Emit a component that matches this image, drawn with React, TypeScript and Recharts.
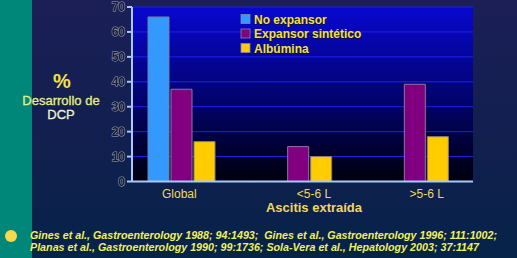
import React from 'react';
import { BarChart, Bar, XAxis, YAxis, CartesianGrid } from 'recharts';

const categories = ['Global', '<5-6 L', '>5-6 L'];
const noExpansor: (number | null)[] = [66, null, null];
const expansorSintetico = [37, 14, 39];
const albumina = [16, 10, 18];
const seriesNames = ['No expansor', 'Expansor sintético', 'Albúmina'];
const seriesColors = ['#3399ff', '#800080', '#ffcc00'];
const yTicks = [0, 10, 20, 30, 40, 50, 60, 70];
const xTitle = 'Ascitis extraída';
const yTitle = ['%', 'Desarrollo de', 'DCP'];
const refs = [
  'Gines et al., Gastroenterology 1988; 94:1493;  Gines et al., Gastroenterology 1996; 111:1002;',
  'Planas et al., Gastroenterology 1990; 99:1736; Sola-Vera et al., Hepatology 2003; 37:1147',
];

// label nudges (style only) so the category labels sit where the reference puts them
const tickShift = [-2, 16, 12];

const data = categories.map((c, i) => ({
  cat: c,
  s0: noExpansor[i],
  s1: expansorSintetico[i],
  s2: albumina[i],
}));

const FONT = '"Liberation Sans", Arial, sans-serif';

const YTick = (props: any) => {
  const { x, y, payload } = props;
  return (
    <text
      x={x}
      y={y}
      dy={4}
      textAnchor="end"
      fontFamily={FONT}
      fontSize={12}
      fontWeight="bold"
      fill="#181828"
      stroke="#9aa6d0"
      strokeWidth={1}
      paintOrder="stroke"
    >
      {payload.value}
    </text>
  );
};

const XTick = (props: any) => {
  const { x, y, payload, index } = props;
  return (
    <text
      x={x + (tickShift[index] || 0)}
      y={y}
      dy={9}
      textAnchor="middle"
      fontFamily={FONT}
      fontSize={12}
      fill="#f0d860"
    >
      {payload.value}
    </text>
  );
};

export default function App() {
  return (
    <div
      style={{
        position: 'absolute',
        left: 0,
        top: 0,
        width: 517,
        height: 258,
        overflow: 'hidden',
        background: 'linear-gradient(180deg, #1b1f56 0%, #121f50 50%, #062348 100%)',
      }}
    >
      <div style={{ position: 'absolute', left: 0, top: 0, width: 32, height: 258, background: '#00877a' }} />
      <div style={{ position: 'absolute', left: 0, top: 0 }}>
        <BarChart
          width={517}
          height={258}
          data={data}
          margin={{ top: 7, right: 44, bottom: 0, left: 0 }}
          barGap={2}
          barSize={21}
        >
          <defs>
            <linearGradient id="plotBg" x1="0" y1="0" x2="0" y2="1">
              <stop offset="0%" stopColor="#0808d0" />
              <stop offset="55%" stopColor="#02026a" />
              <stop offset="100%" stopColor="#00000c" />
            </linearGradient>
          </defs>
          <CartesianGrid
            vertical={false}
            stroke="#2020ee"
            strokeWidth={1}
            fill="url(#plotBg)"
            fillOpacity={1}
          />
          <XAxis
            dataKey="cat"
            height={76.5}
            tickLine={false}
            tickSize={6}
            tickMargin={1}
            padding={{ left: -9, right: 0 }}
            axisLine={{ stroke: '#a8c8ff', strokeWidth: 2 }}
            tick={<XTick />}
            interval={0}
          />
          <YAxis
            width={132}
            domain={[0, 70]}
            ticks={yTicks}
            interval={0}
            tickSize={5}
            tickMargin={2}
            axisLine={{ stroke: '#a8c8ff', strokeWidth: 2 }}
            tickLine={{ stroke: '#a8c8ff', strokeWidth: 2 }}
            tick={<YTick />}
          />
          <Bar dataKey="s0" name={seriesNames[0]} fill={seriesColors[0]} stroke="#7080a8" strokeWidth={1} isAnimationActive={false} />
          <Bar dataKey="s1" name={seriesNames[1]} fill={seriesColors[1]} stroke="#8a78a0" strokeWidth={1} isAnimationActive={false} />
          <Bar dataKey="s2" name={seriesNames[2]} fill={seriesColors[2]} stroke="#8a8070" strokeWidth={1} isAnimationActive={false} />
        </BarChart>
      </div>
      <svg
        width={517}
        height={258}
        style={{ position: 'absolute', left: 0, top: 0, pointerEvents: 'none' }}
      >
        {seriesNames.map((n, i) => (
          <g key={n}>
            <rect x={241} y={14.5 + i * 14.5} width={9} height={9} fill={seriesColors[i]} stroke="#8088a8" strokeWidth={0.8} />
            <text
              x={254}
              y={23.5 + i * 14.5}
              fontFamily={FONT}
              fontSize={12}
              fontWeight="bold"
              fill="#101030"
              dx={1}
              dy={1}
            >
              {n}
            </text>
            <text x={254} y={23.5 + i * 14.5} fontFamily={FONT} fontSize={12} fontWeight="bold" fill="#f4e040">
              {n}
            </text>
          </g>
        ))}
        <text x={62} y={88} textAnchor="middle" fontFamily={FONT} fontSize={20} fontWeight="bold" fill="#f4e04c">
          {yTitle[0]}
        </text>
        <text x={61} y={105} textAnchor="middle" fontFamily={FONT} fontSize={13} fill="#e6f07c" stroke="#e6f07c" strokeWidth={0.3}>
          {yTitle[1]}
        </text>
        <text x={61} y={118.5} textAnchor="middle" fontFamily={FONT} fontSize={13} fill="#f2f2d2" stroke="#f2f2d2" strokeWidth={0.3}>
          {yTitle[2]}
        </text>
        <text x={314} y={212} textAnchor="middle" fontFamily={FONT} fontSize={13} fontWeight="bold" fill="#f0d860">
          {xTitle}
        </text>
        <circle cx={11} cy={236} r={6} fill="#f8d84c" />
        <text
          x={30}
          y={239}
          fontFamily={FONT}
          fontSize={11.5}
          fontWeight="bold"
          fontStyle="italic"
          fill="#f0f060"
          textLength={467}
          lengthAdjust="spacingAndGlyphs"
          style={{ whiteSpace: 'pre' }}
        >
          {refs[0]}
        </text>
        <text
          x={30}
          y={251}
          fontFamily={FONT}
          fontSize={11.5}
          fontWeight="bold"
          fontStyle="italic"
          fill="#f0f060"
          textLength={449}
          lengthAdjust="spacingAndGlyphs"
          style={{ whiteSpace: 'pre' }}
        >
          {refs[1]}
        </text>
      </svg>
    </div>
  );
}
